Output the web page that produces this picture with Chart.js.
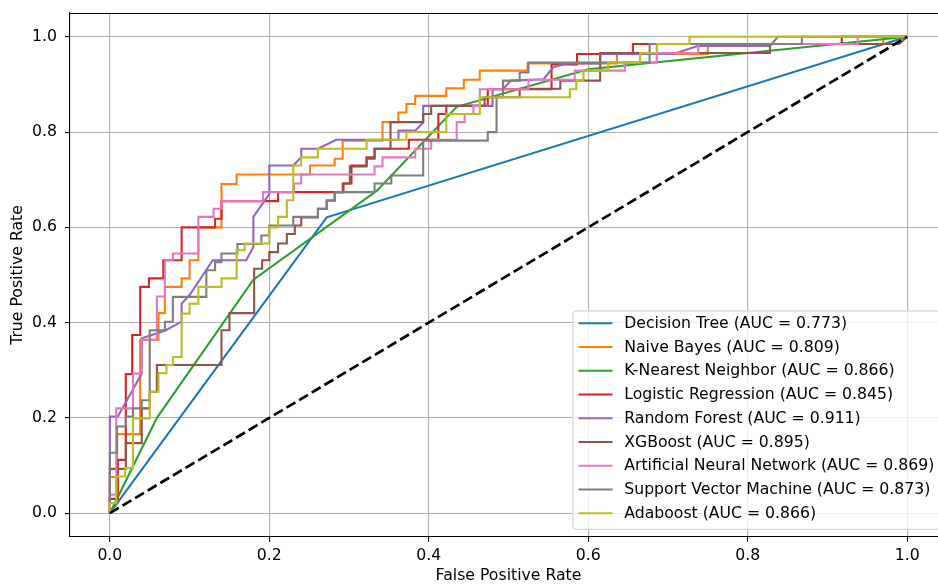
<!DOCTYPE html>
<html>
<head>
<meta charset="utf-8">
<script src="https://cdn.jsdelivr.net/npm/chart.js@4.4.1/dist/chart.umd.min.js"></script>
<style>
  html, body { margin: 0; padding: 0; background: #fff; overflow: hidden; }
  #wrap { width: 960px; height: 587px; }
</style>
</head>
<body>
<div id="wrap"><canvas id="rocChart" width="960" height="587"></canvas></div>
<script>
// Tick values for both axes
const axisTicks = [0, 0.2, 0.4, 0.6, 0.8, 1.0];

// Model names and AUC values (legend order)
const modelNames = ['Decision Tree', 'Naive Bayes', 'K-Nearest Neighbor', 'Logistic Regression',
    'Random Forest', 'XGBoost', 'Artificial Neural Network', 'Support Vector Machine', 'Adaboost'];
const aucValues = [0.773, 0.809, 0.866, 0.845, 0.911, 0.895, 0.869, 0.873, 0.866];

// ROC points [fpr, tpr]
const decisionTree = [[0, 0], [0.272, 0.621], [1, 1]];

const naiveBayes = [[0, 0], [0, 0.076], [0.009, 0.076], [0.009, 0.166], [0.038, 0.166], [0.038, 0.364],
    [0.061, 0.364], [0.061, 0.42], [0.069, 0.42], [0.069, 0.475], [0.09, 0.475], [0.09, 0.493],
    [0.1, 0.493], [0.1, 0.531], [0.111, 0.531], [0.111, 0.6], [0.14, 0.6], [0.14, 0.691],
    [0.159, 0.691], [0.159, 0.711], [0.251, 0.711], [0.251, 0.73], [0.282, 0.73], [0.282, 0.744],
    [0.292, 0.744], [0.292, 0.782], [0.342, 0.782], [0.342, 0.821], [0.362, 0.821], [0.362, 0.841],
    [0.372, 0.841], [0.372, 0.859], [0.383, 0.859], [0.383, 0.876], [0.422, 0.876], [0.422, 0.892],
    [0.444, 0.892], [0.444, 0.91], [0.464, 0.91], [0.464, 0.929], [0.524, 0.929], [0.524, 0.944],
    [0.636, 0.944], [0.636, 0.964], [0.75, 0.964], [0.75, 0.985], [0.97, 0.985], [0.97, 1], [1, 1]];

const knn = [[0, 0], [0.059, 0.2], [0.18, 0.49], [0.335, 0.677], [0.435, 0.853], [0.6, 0.932], [1, 1]];

const logReg = [[0, 0], [0, 0.03], [0.01, 0.03], [0.01, 0.112], [0.02, 0.112], [0.02, 0.292],
    [0.028, 0.292], [0.028, 0.374], [0.038, 0.374], [0.038, 0.475], [0.049, 0.475], [0.049, 0.493],
    [0.067, 0.493], [0.067, 0.531], [0.09, 0.531], [0.09, 0.6], [0.132, 0.6], [0.132, 0.618],
    [0.14, 0.618], [0.14, 0.655], [0.211, 0.655], [0.211, 0.674], [0.293, 0.674], [0.293, 0.692],
    [0.303, 0.692], [0.303, 0.73], [0.322, 0.73], [0.322, 0.747], [0.332, 0.747], [0.332, 0.765],
    [0.375, 0.765], [0.375, 0.784], [0.412, 0.784], [0.412, 0.838], [0.422, 0.838], [0.422, 0.855],
    [0.474, 0.855], [0.474, 0.89], [0.554, 0.89], [0.554, 0.942], [0.586, 0.942], [0.586, 0.964],
    [0.656, 0.964], [0.656, 0.985], [0.918, 0.985], [0.918, 1], [1, 1]];

const randomForest = [[0, 0], [0, 0.203], [0.01, 0.203], [0.04, 0.293], [0.04, 0.367], [0.069, 0.383],
    [0.09, 0.402], [0.09, 0.44], [0.1, 0.458], [0.129, 0.531], [0.171, 0.531], [0.18, 0.559],
    [0.18, 0.622], [0.2, 0.67], [0.2, 0.73], [0.23, 0.73], [0.24, 0.747], [0.24, 0.765],
    [0.261, 0.765], [0.284, 0.784], [0.362, 0.784], [0.362, 0.803], [0.383, 0.803], [0.393, 0.82],
    [0.393, 0.855], [0.48, 0.855], [0.48, 0.89], [0.493, 0.89], [0.503, 0.908], [0.544, 0.911],
    [0.556, 0.936], [0.573, 0.944], [0.615, 0.944], [0.615, 0.964], [0.707, 0.964], [0.738, 0.981],
    [0.828, 0.981], [0.838, 1], [1, 1]];

const xgboost = [[0, 0], [0, 0.093], [0.02, 0.093], [0.02, 0.147], [0.04, 0.147], [0.04, 0.22],
    [0.05, 0.22], [0.05, 0.255], [0.059, 0.255], [0.059, 0.311], [0.14, 0.311], [0.14, 0.384],
    [0.15, 0.384], [0.15, 0.42], [0.181, 0.42], [0.181, 0.513], [0.191, 0.513], [0.191, 0.531],
    [0.2, 0.531], [0.2, 0.548], [0.211, 0.548], [0.211, 0.566], [0.222, 0.566], [0.222, 0.586],
    [0.232, 0.586], [0.232, 0.604], [0.24, 0.604], [0.24, 0.621], [0.261, 0.621], [0.261, 0.639],
    [0.272, 0.639], [0.272, 0.656], [0.282, 0.656], [0.282, 0.674], [0.292, 0.674], [0.292, 0.692],
    [0.301, 0.692], [0.301, 0.728], [0.322, 0.728], [0.322, 0.744], [0.332, 0.744], [0.332, 0.765],
    [0.352, 0.765], [0.352, 0.821], [0.393, 0.821], [0.393, 0.838], [0.403, 0.838], [0.403, 0.855],
    [0.47, 0.855], [0.47, 0.873], [0.514, 0.873], [0.514, 0.891], [0.565, 0.891], [0.565, 0.908],
    [0.615, 0.908], [0.615, 0.966], [0.828, 0.966], [0.828, 0.985], [0.99, 0.985], [1, 1]];

const ann = [[0, 0], [0, 0.039], [0.008, 0.039], [0.008, 0.22], [0.029, 0.22], [0.029, 0.293],
    [0.04, 0.293], [0.04, 0.364], [0.059, 0.364], [0.059, 0.455], [0.069, 0.455], [0.069, 0.531],
    [0.079, 0.531], [0.079, 0.545], [0.111, 0.545], [0.111, 0.622], [0.13, 0.622], [0.13, 0.639],
    [0.14, 0.639], [0.14, 0.655], [0.192, 0.655], [0.192, 0.674], [0.231, 0.674], [0.231, 0.692],
    [0.24, 0.692], [0.24, 0.711], [0.332, 0.711], [0.332, 0.728], [0.342, 0.728], [0.342, 0.747],
    [0.383, 0.747], [0.383, 0.765], [0.403, 0.765], [0.403, 0.784], [0.435, 0.784], [0.435, 0.821],
    [0.445, 0.821], [0.445, 0.838], [0.456, 0.838], [0.456, 0.855], [0.464, 0.855], [0.464, 0.89],
    [0.525, 0.89], [0.525, 0.91], [0.583, 0.91], [0.583, 0.929], [0.646, 0.929], [0.646, 0.946],
    [0.686, 0.946], [0.686, 0.966], [0.738, 0.966], [0.738, 0.985], [0.938, 0.985], [0.938, 1], [1, 1]];

const svm = [[0, 0], [0, 0.127], [0.009, 0.127], [0.009, 0.182], [0.02, 0.182], [0.02, 0.203],
    [0.029, 0.203], [0.029, 0.22], [0.04, 0.22], [0.04, 0.237], [0.05, 0.237], [0.05, 0.384],
    [0.069, 0.384], [0.069, 0.402], [0.079, 0.402], [0.079, 0.454], [0.121, 0.454], [0.121, 0.51],
    [0.132, 0.51], [0.132, 0.527], [0.14, 0.527], [0.14, 0.545], [0.16, 0.545], [0.16, 0.565],
    [0.19, 0.565], [0.19, 0.583], [0.2, 0.583], [0.2, 0.604], [0.23, 0.604], [0.23, 0.622],
    [0.261, 0.622], [0.261, 0.639], [0.272, 0.639], [0.272, 0.657], [0.282, 0.657], [0.282, 0.674],
    [0.332, 0.674], [0.332, 0.692], [0.353, 0.692], [0.353, 0.709], [0.393, 0.709], [0.393, 0.782],
    [0.474, 0.782], [0.474, 0.8], [0.485, 0.8], [0.485, 0.873], [0.493, 0.873], [0.493, 0.908],
    [0.514, 0.908], [0.514, 0.925], [0.525, 0.925], [0.525, 0.946], [0.677, 0.946], [0.677, 0.985],
    [0.868, 0.985], [0.868, 1], [1, 1]];

const adaboost = [[0, 0], [0, 0.021], [0.008, 0.021], [0.008, 0.077], [0.019, 0.077], [0.019, 0.095],
    [0.029, 0.095], [0.029, 0.199], [0.05, 0.199], [0.05, 0.255], [0.061, 0.255], [0.061, 0.294],
    [0.071, 0.294], [0.071, 0.311], [0.079, 0.311], [0.079, 0.328], [0.09, 0.328], [0.09, 0.419],
    [0.1, 0.419], [0.1, 0.44], [0.111, 0.44], [0.111, 0.475], [0.14, 0.475], [0.14, 0.493],
    [0.159, 0.493], [0.159, 0.552], [0.169, 0.552], [0.169, 0.566], [0.2, 0.566], [0.2, 0.6],
    [0.211, 0.6], [0.211, 0.622], [0.222, 0.622], [0.222, 0.657], [0.23, 0.657], [0.23, 0.73],
    [0.24, 0.73], [0.24, 0.747], [0.261, 0.747], [0.261, 0.765], [0.322, 0.765], [0.322, 0.784],
    [0.372, 0.784], [0.372, 0.8], [0.422, 0.8], [0.422, 0.838], [0.464, 0.838], [0.464, 0.873],
    [0.577, 0.873], [0.577, 0.89], [0.585, 0.89], [0.585, 0.908], [0.594, 0.908], [0.594, 0.929],
    [0.625, 0.929], [0.625, 0.946], [0.665, 0.946], [0.665, 0.966], [0.686, 0.966], [0.686, 0.985],
    [0.727, 0.985], [0.727, 1], [1, 1]];

const chancePoints = [[0, 0], [1, 1]];

const curves = [decisionTree, naiveBayes, knn, logReg, randomForest, xgboost, ann, svm, adaboost];

// matplotlib tab10
const colors = ['#1f77b4', '#ff7f0e', '#2ca02c', '#d62728', '#9467bd', '#8c564b', '#e377c2', '#7f7f7f', '#bcbd22'];

const FONT = "'DejaVu Sans', sans-serif";
const FONT_SIZE = 15.7;
Chart.defaults.font.family = FONT;
Chart.defaults.font.size = FONT_SIZE;
Chart.defaults.color = '#000';

const datasets = curves.map((pts, i) => ({
    label: modelNames[i] + ' (AUC = ' + aucValues[i].toFixed(3) + ')',
    data: pts.map(p => ({ x: p[0], y: p[1] })),
    borderColor: colors[i],
    backgroundColor: colors[i],
    borderWidth: 2.1,
    pointRadius: 0,
    tension: 0,
    fill: false,
    order: 20 - i
}));

datasets.push({
    label: 'chance',
    data: chancePoints.map(p => ({ x: p[0], y: p[1] })),
    borderColor: '#000',
    borderWidth: 2.7,
    borderDash: [10.3, 4.4],
    pointRadius: 0,
    fill: false,
    order: 1
});

// Top and right spines
const framePlugin = {
    id: 'frame',
    afterDatasetsDraw(chart) {
        const { ctx, chartArea: a } = chart;
        const top = Math.floor(a.top) + 0.5;
        ctx.save();
        ctx.strokeStyle = '#000';
        ctx.lineWidth = 1.1;
        ctx.beginPath();
        ctx.moveTo(a.left, top);
        ctx.lineTo(a.right, top);
        ctx.lineTo(a.right, a.bottom);
        ctx.stroke();
        ctx.restore();
    }
};

// Legend box in the lower right corner, like matplotlib
const legendPlugin = {
    id: 'innerLegend',
    afterDraw(chart) {
        const { ctx, chartArea: a } = chart;
        const items = chart.data.datasets.slice(0, modelNames.length);
        ctx.save();
        ctx.font = FONT_SIZE + 'px ' + FONT;
        let maxW = 0;
        items.forEach(d => { maxW = Math.max(maxW, ctx.measureText(d.label).width); });
        const pad = 5.6, handle = 34, gap = 11.7, rowH = 23.75;
        const right = a.right - 7;
        const bottom = a.bottom - 7.7;
        const top = bottom - 218.3;
        const left = right - (pad * 2 + handle + gap + maxW);

        ctx.beginPath();
        ctx.roundRect(left, top, right - left, bottom - top, 3);
        ctx.fillStyle = 'rgba(255,255,255,0.8)';
        ctx.fill();
        ctx.strokeStyle = '#cccccc';
        ctx.lineWidth = 1;
        ctx.stroke();

        items.forEach((d, i) => {
            const y = top + 12.3 + i * rowH;
            ctx.beginPath();
            ctx.strokeStyle = d.borderColor;
            ctx.lineWidth = 2.1;
            ctx.moveTo(left + pad, y);
            ctx.lineTo(left + pad + handle, y);
            ctx.stroke();
            ctx.fillStyle = '#000';
            ctx.textBaseline = 'middle';
            ctx.textAlign = 'left';
            ctx.fillText(d.label, left + pad + handle + gap, y + 0.5);
        });
        ctx.restore();
    }
};

function setTicks(scale) {
    scale.ticks = axisTicks.map(v => ({ value: v }));
}

// keep the plot area exactly where the layout padding puts it
function noLabelPadding(scale) {
    scale.paddingTop = 0;
    scale.paddingBottom = 0;
    scale.paddingLeft = 0;
    scale.paddingRight = 0;
}

new Chart(document.getElementById('rocChart'), {
    type: 'line',
    data: { datasets: datasets },
    options: {
        responsive: false,
        animation: false,
        devicePixelRatio: 1,
        layout: { autoPadding: false, padding: { top: 13, right: 13, left: 0, bottom: 0 } },
        plugins: {
            legend: { display: false },
            tooltip: { enabled: false },
            title: { display: false }
        },
        scales: {
            x: {
                type: 'linear',
                min: -0.05,
                max: 1.05,
                afterBuildTicks: setTicks,
                afterFit(scale) { scale.height = 50; noLabelPadding(scale); },
                ticks: { padding: 4.5, callback: v => v.toFixed(1), maxRotation: 0 },
                grid: { color: '#b0b0b0', lineWidth: 1.1, tickLength: 5, tickColor: '#000', tickWidth: 1.1 },
                border: { display: true, color: '#000', width: 1.1 },
                title: { display: true, text: 'False Positive Rate', padding: { top: 0, bottom: 1.5 } }
            },
            y: {
                type: 'linear',
                min: -0.05,
                max: 1.05,
                afterBuildTicks: setTicks,
                afterFit(scale) { scale.width = 70; noLabelPadding(scale); },
                ticks: { padding: 8, callback: v => v.toFixed(1) },
                grid: { color: '#b0b0b0', lineWidth: 1.1, tickLength: 5, tickColor: '#000', tickWidth: 1.1 },
                border: { display: true, color: '#000', width: 1.1 },
                title: { display: true, text: 'True Positive Rate', padding: { top: 8.5, bottom: 0 } }
            }
        }
    },
    plugins: [framePlugin, legendPlugin]
});
</script>
</body>
</html>
